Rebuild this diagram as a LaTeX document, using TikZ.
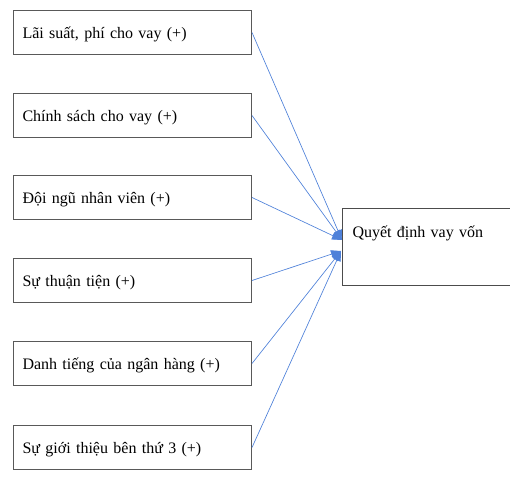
\documentclass[tikz,border=0pt]{standalone}
\usepackage{fontspec}
\setmainfont{Liberation Serif}
\usepackage{tikz}
\usetikzlibrary{arrows.meta}
\definecolor{linkblue}{HTML}{4F81D9}

\begin{document}
\begin{tikzpicture}[x=0.75pt,y=-0.75pt,
  factor/.style={draw=black!65,line width=0.75pt,anchor=north west,
    inner xsep=6.75pt,inner ysep=0pt,text width=165pt,align=left,
    text height=21pt,text depth=12pt,font=\fontsize{12}{14}\selectfont},
  decision/.style={draw=black!70,line width=0.75pt,anchor=north west,
    inner xsep=7.5pt,inner ysep=0pt,text width=140pt,align=left,
    text height=21.75pt,text depth=36pt,font=\fontsize{12}{14}\selectfont},
  link/.style={draw=linkblue,line width=0.5pt,-{Triangle[length=7.5pt,width=6pt]}}]
\useasboundingbox (0,0) rectangle (510,477);
% left column
\node[factor] (laisuat) at (13,10) {Lãi suất, phí cho vay (+)};
\node[factor] (chinhsach) at (13,93) {Chính sách cho vay (+)};
\node[factor] (doingu) at (13,175) {Đội ngũ nhân viên (+)};
\node[factor] (thuantien) at (13,258) {Sự thuận tiện (+)};
\node[factor] (danhtieng) at (13,341) {Danh tiếng của ngân hàng (+)};
\node[factor] (gioithieu) at (13,425) {Sự giới thiệu bên thứ 3 (+)};
% right box
\node[decision] (quyetdinh) at (342,208) {Quyết định vay vốn};
\coordinate (inUp) at (342,240);
\coordinate (inDown) at (341,251);
% arrows
\draw[link] (laisuat.east) -- (inUp);
\draw[link] (chinhsach.east) -- (inUp);
\draw[link] (doingu.east) -- (inUp);
\draw[link] (thuantien.east) -- (inDown);
\draw[link] (danhtieng.east) -- (inDown);
\draw[link] (gioithieu.east) -- (inDown);
\end{tikzpicture}
\end{document}
